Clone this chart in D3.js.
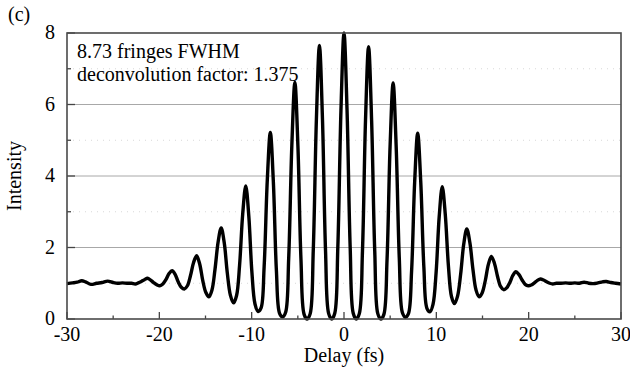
<!DOCTYPE html>
<html>
<head>
<meta charset="utf-8">
<script src="https://cdn.jsdelivr.net/npm/d3@7"></script>
<style>
  body { margin: 0; background: #fff; }
  text { font-family: "Liberation Serif", "Times New Roman", serif; fill: #000; }
  .tick-label { font-size: 20px; }
  .axis-title { font-size: 20px; }
  .note { font-size: 20px; }
</style>
</head>
<body>
<div id="wrapper"></div>
<script>
// delay in fs (roughly 1/8 fringe spacing in the fringe region)
const delayFs = [
  -30, -29.4, -28.9, -28.4, -28.0, -27.4, -26.8, -26.2, -25.6, -25.0, -24.5, -24.0, -23.5, -23.0,
  -22.61, -22.28, -21.95, -21.61, -21.28, -20.95, -20.62, -20.28, -19.95, -19.62, -19.29, -18.95,
  -18.62, -18.29, -17.96, -17.62, -17.29, -16.96, -16.63, -16.29, -15.96, -15.63, -15.30, -14.96,
  -14.63, -14.30, -13.97, -13.63, -13.30, -12.97, -12.64, -12.30, -11.97, -11.64, -11.31, -10.97,
  -10.64, -10.31, -9.98, -9.64, -9.31, -8.98, -8.65, -8.31, -7.98, -7.65, -7.32, -6.98,
  -6.65, -6.32, -5.99, -5.65, -5.32, -4.99, -4.66, -4.32, -3.99, -3.66, -3.33, -2.99,
  -2.66, -2.33, -2.00, -1.66, -1.33, -1.00, -0.67, -0.33,
  0,
  0.33, 0.67, 1.00, 1.33, 1.66, 2.00, 2.33, 2.66, 2.99, 3.33, 3.66, 3.99,
  4.32, 4.66, 4.99, 5.32, 5.65, 5.99, 6.32, 6.65, 6.98, 7.32, 7.65, 7.98,
  8.31, 8.65, 8.98, 9.31, 9.64, 9.98, 10.31, 10.64, 10.97, 11.31, 11.64, 11.97,
  12.30, 12.64, 12.97, 13.30, 13.63, 13.97, 14.30, 14.63, 14.96, 15.30, 15.63, 15.96,
  16.29, 16.63, 16.96, 17.29, 17.62, 17.96, 18.29, 18.62, 18.95, 19.29, 19.62, 19.95,
  20.28, 20.62, 20.95, 21.28, 21.61, 21.95, 22.28, 22.61,
  23.0, 23.5, 24.0, 24.5, 25.0, 25.5, 26.0, 26.5, 27.0, 27.5, 28.0, 28.4, 28.9, 29.4, 30
];
const intensity = [
  0.99, 1.01, 1.03, 1.07, 1.04, 0.97, 1.0, 1.02, 1.06, 1.02, 1.0, 1.01, 1.0, 1.0,
  0.98, 1.01, 1.05, 1.10, 1.14, 1.09, 1.02, 0.96, 0.93, 0.98, 1.10, 1.27,
  1.35, 1.25, 1.04, 0.89, 0.84, 0.93, 1.21, 1.58, 1.77, 1.54, 1.08, 0.74,
  0.62, 0.81, 1.39, 2.16, 2.55, 2.13, 1.29, 0.66, 0.45, 0.65, 1.50, 2.94,
  3.72, 2.88, 1.33, 0.42, 0.21, 0.31, 1.46, 3.87, 5.22, 3.83, 1.35, 0.16,
  0.06, 0.19, 1.70, 4.85, 6.62, 4.83, 1.66, 0.13, 0.0, 0.15, 1.91, 5.58,
  7.65, 5.58, 1.91, 0.15, 0.0, 0.16, 2.0, 5.84,
  8.0,
  5.84, 2.0, 0.16, 0.0, 0.15, 1.90, 5.56, 7.62, 5.56, 1.90, 0.15, 0.0,
  0.13, 1.65, 4.82, 6.60, 4.83, 1.69, 0.18, 0.05, 0.15, 1.34, 3.81, 5.20,
  3.85, 1.45, 0.30, 0.20, 0.41, 1.32, 2.86, 3.70, 2.92, 1.48, 0.63, 0.43,
  0.64, 1.27, 2.10, 2.52, 2.14, 1.38, 0.81, 0.62, 0.73, 1.07, 1.52, 1.75,
  1.56, 1.19, 0.91, 0.82, 0.87, 1.02, 1.22, 1.32, 1.24, 1.09, 0.97, 0.93,
  0.95, 1.01, 1.08, 1.12, 1.09, 1.04, 1.0, 0.98,
  1.0, 1.0, 1.01, 1.0, 1.01, 1.0, 1.03, 1.0, 0.99, 1.01, 1.04, 1.05, 1.02, 1.0, 0.98
];
const xMajorTicks = [-30, -20, -10, 0, 10, 20, 30];
const xMinorTicks = [-25, -15, -5, 5, 15, 25];
const yMajorTicks = [0, 2, 4, 6, 8];
const yMinorTicks = [1, 3, 5, 7];
const noteLines = ["8.73 fringes FWHM", "deconvolution factor: 1.375"];

function drawChart() {
  const dataset = delayFs.map((d, i) => ({ delay: d, value: intensity[i] }));
  const xAccessor = (d) => d.delay;
  const yAccessor = (d) => d.value;

  //* dimensions
  const dimensions = {
    width: 630,
    height: 370,
    margin: { top: 33, right: 9, bottom: 51, left: 67 },
  };
  dimensions.boundedWidth =
    dimensions.width - dimensions.margin.left - dimensions.margin.right;
  dimensions.boundedHeight =
    dimensions.height - dimensions.margin.top - dimensions.margin.bottom;

  const wrapper = d3
    .select("#wrapper")
    .append("svg")
    .attr("width", dimensions.width)
    .attr("height", dimensions.height);

  const bounds = wrapper
    .append("g")
    .attr("transform", `translate(${dimensions.margin.left},${dimensions.margin.top})`);

  //* scales
  const xScale = d3.scaleLinear().domain([-30, 30]).range([0, dimensions.boundedWidth]);
  const yScale = d3.scaleLinear().domain([0, 8]).range([dimensions.boundedHeight, 0]);

  //* gridlines
  bounds
    .selectAll(".grid-minor")
    .data(yMinorTicks)
    .join("line")
    .attr("x1", 0)
    .attr("x2", dimensions.boundedWidth)
    .attr("y1", (d) => yScale(d))
    .attr("y2", (d) => yScale(d))
    .attr("stroke", "#d8d8d8")
    .attr("stroke-width", 1)
    .attr("stroke-dasharray", "1 5");

  bounds
    .selectAll(".grid-major")
    .data(yMajorTicks.filter((d) => d > 0 && d < 8))
    .join("line")
    .attr("x1", 0)
    .attr("x2", dimensions.boundedWidth)
    .attr("y1", (d) => yScale(d))
    .attr("y2", (d) => yScale(d))
    .attr("stroke", "#a8a8a8")
    .attr("stroke-width", 1);

  //* ticks (inward)
  const tickGroup = bounds.append("g").attr("stroke", "#444").attr("stroke-width", 1.3);
  xMajorTicks.forEach((t) => {
    tickGroup.append("line")
      .attr("x1", xScale(t)).attr("x2", xScale(t))
      .attr("y1", dimensions.boundedHeight).attr("y2", dimensions.boundedHeight - 7);
  });
  xMinorTicks.forEach((t) => {
    tickGroup.append("line")
      .attr("x1", xScale(t)).attr("x2", xScale(t))
      .attr("y1", dimensions.boundedHeight).attr("y2", dimensions.boundedHeight - 3.5);
  });
  yMajorTicks.forEach((t) => {
    tickGroup.append("line")
      .attr("x1", 0).attr("x2", 8)
      .attr("y1", yScale(t)).attr("y2", yScale(t));
  });
  yMinorTicks.forEach((t) => {
    tickGroup.append("line")
      .attr("x1", 0).attr("x2", 4)
      .attr("y1", yScale(t)).attr("y2", yScale(t));
  });

  //* data line
  const lineGenerator = d3
    .line()
    .x((d) => xScale(xAccessor(d)))
    .y((d) => yScale(yAccessor(d)))
    .curve(d3.curveCatmullRom.alpha(0.5));

  bounds
    .append("path")
    .attr("d", lineGenerator(dataset))
    .attr("fill", "none")
    .attr("stroke", "#000")
    .attr("stroke-width", 3.4)
    .attr("stroke-linejoin", "round");

  //* frame
  bounds
    .append("rect")
    .attr("width", dimensions.boundedWidth)
    .attr("height", dimensions.boundedHeight)
    .attr("fill", "none")
    .attr("stroke", "#4a4a4a")
    .attr("stroke-width", 1.6);

  //* tick labels
  bounds
    .selectAll(".x-label")
    .data(xMajorTicks)
    .join("text")
    .attr("class", "tick-label")
    .attr("x", (d) => xScale(d))
    .attr("y", dimensions.boundedHeight + 22)
    .attr("text-anchor", "middle")
    .text((d) => d);

  bounds
    .selectAll(".y-label")
    .data(yMajorTicks)
    .join("text")
    .attr("class", "tick-label")
    .attr("x", -12)
    .attr("y", (d) => yScale(d))
    .attr("dy", "0.32em")
    .attr("text-anchor", "end")
    .text((d) => d);

  //* axis titles
  bounds
    .append("text")
    .attr("class", "axis-title")
    .attr("x", dimensions.boundedWidth / 2)
    .attr("y", dimensions.boundedHeight + 43)
    .attr("text-anchor", "middle")
    .text("Delay (fs)");

  wrapper
    .append("text")
    .attr("class", "axis-title")
    .attr("transform", `translate(21, ${dimensions.margin.top + dimensions.boundedHeight / 2}) rotate(-90)`)
    .attr("text-anchor", "middle")
    .text("Intensity");

  wrapper
    .append("text")
    .attr("class", "axis-title")
    .attr("x", 8)
    .attr("y", 21)
    .text("(c)");

  //* annotation
  noteLines.forEach((line, i) => {
    bounds
      .append("text")
      .attr("class", "note")
      .attr("x", 10)
      .attr("y", 25 + i * 23)
      .text(line);
  });
}

drawChart();
</script>
</body>
</html>
